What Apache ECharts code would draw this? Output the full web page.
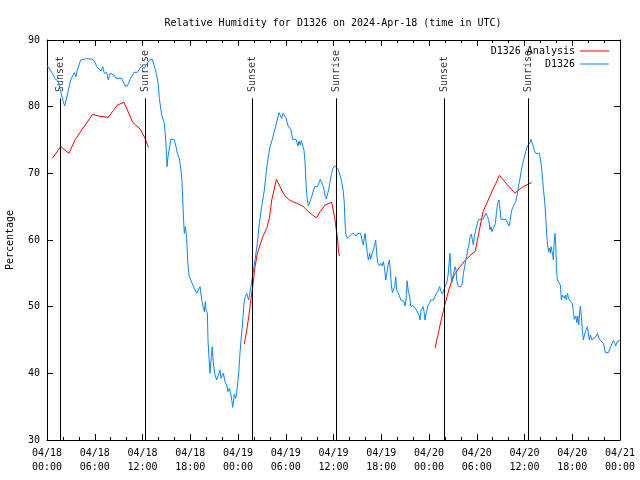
<!DOCTYPE html>
<html><head><meta charset="utf-8">
<script src="https://cdn.jsdelivr.net/npm/echarts/dist/echarts.min.js"></script>
<style>html,body{margin:0;padding:0;background:#fff}#c{width:640px;height:480px}</style>
</head><body><div id="c"></div><script>
// x tick labels (every 6 hours from 2024-04-18 00:00 UTC)
const xTickLabels = ['04/18\n00:00','04/18\n06:00','04/18\n12:00','04/18\n18:00','04/19\n00:00','04/19\n06:00','04/19\n12:00','04/19\n18:00','04/20\n00:00','04/20\n06:00','04/20\n12:00','04/20\n18:00','04/21\n00:00'];
// sunrise / sunset times (hours since 04/18 00:00 UTC)
const sunHours = [1.72, 12.35, 25.8, 36.35, 49.93, 60.53];
const sunNames = ['Sunset','Sunrise','Sunset','Sunrise','Sunset','Sunrise'];

// D1326 observations: hours since 04/18 00:00 UTC, relative humidity (%)
const obsHours = [0.0,0.67,1.0,1.42,1.63,2.05,2.22,2.55,2.97,3.43,3.64,3.81,4.06,4.23,5.0,5.74,6.03,6.24,6.79,7.0,7.2,7.5,7.7,7.92,8.42,8.67,9.38,9.8,10.09,10.51,10.93,11.35,11.9,12.23,12.44,12.94,13.23,13.57,13.78,13.99,14.11,14.29,14.41,14.62,14.74,14.87,14.99,15.08,15.2,15.46,15.54,15.96,16.17,16.38,16.63,16.8,16.96,17.05,17.17,17.26,17.38,17.55,17.68,17.84,18.06,18.27,18.6,18.81,19.06,19.23,19.48,19.77,19.9,19.98,20.15,20.23,20.36,20.48,20.65,20.77,20.9,21.11,21.32,21.53,21.74,21.86,22.16,22.37,22.58,22.74,22.91,23.08,23.25,23.33,23.46,23.54,23.71,23.83,24.0,24.13,24.25,24.38,24.5,24.63,24.75,24.92,25.09,25.34,25.5,25.63,25.76,26.14,26.43,26.68,26.98,27.31,27.65,27.98,28.31,28.56,28.82,29.15,29.32,29.49,29.66,29.78,29.91,30.07,30.25,30.49,30.66,30.87,31.29,31.54,31.67,31.83,31.96,32.17,32.29,32.42,32.55,32.67,32.84,33.01,33.26,33.64,33.97,34.18,34.35,34.52,34.64,34.81,34.97,35.1,35.22,35.39,35.6,35.77,35.94,36.15,36.35,36.52,36.69,36.9,37.07,37.23,37.36,37.45,37.57,37.74,37.99,38.16,38.45,38.7,38.87,39.04,39.42,39.58,39.75,39.96,40.09,40.25,40.38,40.55,40.67,40.8,41.01,41.17,41.3,41.43,41.55,41.76,41.97,42.14,42.26,42.39,42.56,42.68,42.85,43.02,43.14,43.27,43.4,43.56,43.69,43.81,43.94,44.11,44.32,44.48,44.82,44.99,45.11,45.24,45.41,45.57,45.7,46.03,46.24,46.41,46.62,46.75,46.87,47.0,47.25,47.38,47.5,47.67,47.84,48.05,48.21,48.55,48.72,48.93,49.13,49.34,49.51,49.68,49.85,50.01,50.22,50.43,50.52,50.64,50.73,50.85,50.98,51.15,51.27,51.4,51.48,51.69,51.98,52.19,52.32,52.49,52.61,52.74,52.86,53.03,53.16,53.32,53.45,53.58,53.7,53.83,53.95,54.12,54.29,54.75,54.92,55.17,55.34,55.5,55.67,55.8,55.92,56.09,56.22,56.34,56.47,56.63,56.8,56.93,57.05,57.64,57.89,58.06,58.18,58.35,58.52,58.73,58.9,59.11,59.27,59.44,59.61,59.78,59.94,60.15,60.36,60.7,60.82,60.95,61.12,61.24,61.41,61.87,61.95,62.08,62.2,62.29,62.41,62.54,62.67,62.79,62.92,63.04,63.13,63.25,63.34,63.46,63.55,63.63,63.71,63.84,63.92,64.01,64.13,64.38,64.51,64.63,64.76,64.89,65.01,65.14,65.26,65.39,65.51,65.64,65.89,66.02,66.14,66.27,66.44,66.56,66.69,66.81,66.94,67.02,67.15,67.27,67.4,67.53,67.65,67.78,67.9,68.03,68.15,68.28,68.49,68.74,68.99,69.16,69.28,69.41,69.62,69.91,70.04,70.16,70.54,70.67,70.83,71.0,71.17,71.34,71.46,71.63,71.84,72.0];
const obsValues = [86.2,85.0,84.25,83.75,82.75,80.75,80.1,81.75,84.0,85.1,84.5,85.5,85.75,87.0,87.2,87.1,86.65,86.0,85.35,86.0,85.0,85.1,84.0,85.0,84.75,84.25,84.25,83.1,83.1,84.25,85.15,85.15,86.1,85.7,86.25,87.1,87.1,85.75,84.75,83.25,81.25,79.75,78.75,78.0,77.5,75.75,73.5,71.0,72.5,74.25,75.1,75.1,74.25,73.0,72.25,70.75,69.0,66.25,62.75,61.0,62.0,60.25,56.75,54.75,54.0,53.9,52.5,52.0,52.0,53.0,50.75,49.25,50.75,49.5,49.0,45.0,42.25,40.0,42.5,44.0,41.5,39.75,39.0,39.75,40.5,39.25,40.0,38.75,38.25,37.25,37.75,37.0,35.75,34.9,36.0,36.85,36.25,37.0,39.0,40.75,43.1,45.0,46.5,48.5,50.5,51.5,52.0,51.0,51.0,53.0,53.25,57.0,59.5,62.5,65.0,67.5,71.25,73.75,75.1,75.1,77.5,79.1,79.1,78.25,79.0,78.75,79.0,78.25,77.25,77.1,76.5,75.1,75.1,74.1,74.85,74.25,74.9,74.0,73.5,71.75,68.5,66.5,65.1,65.1,66.5,68.0,68.0,68.6,69.1,69.1,68.25,67.6,66.5,66.15,66.75,67.5,69.0,70.0,70.75,71.1,71.1,70.75,70.25,69.4,68.5,67.25,65.5,62.5,60.75,60.25,60.25,60.75,61.0,61.0,60.6,61.0,61.0,60.0,59.25,61.0,59.75,58.0,57.0,58.0,57.1,57.75,58.5,59.25,60.0,58.0,56.6,56.15,56.5,56.1,56.75,56.0,54.0,54.75,56.25,57.0,55.5,53.25,52.1,52.1,53.0,54.5,52.5,52.1,52.0,51.0,50.85,50.1,51.0,53.9,52.25,51.5,50.1,50.1,50.0,49.5,49.5,48.75,48.0,49.5,50.0,49.25,48.0,49.1,50.1,50.5,51.0,51.0,51.5,52.0,52.35,53.0,52.25,51.9,51.9,53.0,53.5,55.0,56.5,58.0,55.5,53.5,54.5,55.25,56.0,55.5,54.0,53.0,53.0,53.5,55.0,56.0,57.0,57.5,58.5,59.25,60.5,60.9,60.0,59.25,60.5,61.25,61.5,62.75,63.1,63.1,63.4,64.0,63.5,63.1,61.5,62.0,61.25,61.75,61.5,62.5,64.0,65.5,66.0,64.5,63.1,63.1,62.9,62.1,62.75,64.25,64.9,65.1,65.75,67.0,68.25,69.25,70.5,71.5,72.25,73.25,74.1,74.6,75.1,74.6,74.0,73.4,73.0,73.0,72.5,71.5,70.25,68.75,67.25,65.75,63.5,60.75,59.0,58.25,58.75,58.0,59.0,58.25,57.75,57.0,59.25,61.0,59.5,55.75,54.0,54.0,53.25,51.0,51.75,52.0,51.25,51.75,51.0,52.0,51.5,51.0,51.0,50.5,49.25,48.1,48.6,47.6,48.6,47.25,49.25,50.1,48.5,46.25,45.0,45.75,46.25,46.6,47.0,45.9,45.0,45.75,45.0,45.0,45.5,46.0,45.6,45.1,45.0,44.5,43.9,43.1,43.1,43.5,44.0,44.5,44.9,44.5,44.1,44.75,45.0,45.0];

// D1326 Analysis: three runs (null marks a break)
const anaHours = [0.67,1.72,2.76,3.52,4.36,5.74,6.45,7.71,8.84,9.68,10.77,11.69,12.32,12.74, 18.0,
  24.8,25.1,25.35,25.64,25.85,26.14,26.44,26.77,27.11,27.61,27.94,28.24,28.53,28.82,29.28,29.83,30.33,30.88,31.59,32.22,32.85,33.47,33.89,34.31,34.94,35.78,35.9,36.2,36.32,36.49,36.62,36.74, 42.0,
  48.76,49.39,49.98,50.56,51.19,51.9,52.6,53.2,53.8,54.33,54.8,55.3,55.88,56.4,56.85,57.77,58.81,59.23,59.86,60.48,60.9];
const anaValues = [72.25,74.0,73.0,75.0,76.5,78.85,78.6,78.4,80.25,80.65,77.65,76.65,75.25,73.9, null,
  44.4,46.5,48.5,51.25,53.0,56.0,58.0,59.25,60.5,61.75,63.25,66.0,67.5,69.1,68.0,66.75,66.1,65.75,65.4,65.0,64.25,63.65,63.35,64.25,65.25,65.65,65.5,63.0,61.75,60.5,58.5,57.6, null,
  43.75,47.25,50.25,52.8,54.8,56.0,57.0,57.7,58.3,61.5,64.3,65.6,67.2,68.5,69.7,68.4,67.0,67.5,68.0,68.4,68.6];

const FONT = 'DejaVu Sans Mono';
const txt = {color:'#000', fontFamily: FONT, fontSize: 10};
const LINE_TOP = 81.25, LABEL_BASE = 82.2;

const chart = echarts.init(document.getElementById('c'), null, {renderer:'canvas'});
const axisCommonX = {
  type:'value', min:0, max:72, interval:6,
  axisLine:{show:true, onZero:false, lineStyle:{color:'#000', width:1}},
  axisTick:{show:true, inside:true, length:6, lineStyle:{color:'#000'}},
  minorTick:{show:true, splitNumber:3, length:3, lineStyle:{color:'#000'}},
  splitLine:{show:false}, minorSplitLine:{show:false}
};
const axisCommonY = {
  type:'value', min:30, max:90, interval:10,
  axisLine:{show:true, onZero:false, lineStyle:{color:'#000', width:1}},
  axisTick:{show:true, inside:true, length:6, lineStyle:{color:'#000'}},
  splitLine:{show:false}
};
const legendCommon = {right:31, align:'right', orient:'horizontal', padding:0, icon:'rect',
  itemWidth:29, itemHeight:1, itemGap:0, selectedMode:false, textStyle:txt};
chart.setOption({
  animation:false,
  backgroundColor:'#fff',
  title:{text:'Relative Humidity for D1326 on 2024-Apr-18 (time in UTC)', left:328, top:13, textAlign:'center',
    textStyle:{color:'#000', fontFamily:FONT, fontSize:10, fontWeight:'normal'}},
  legend:[
    Object.assign({}, legendCommon, {data:['D1326 Analysis'], top:46}),
    Object.assign({}, legendCommon, {data:['D1326'], top:59})
  ],
  grid:{left:47, right:20, top:40, bottom:40, containLabel:false, outerBoundsMode:'none'},
  xAxis:[
    Object.assign({}, axisCommonX, {position:'bottom',
      axisLabel:Object.assign({}, txt, {margin:6, lineHeight:14, formatter:v=>xTickLabels[Math.round(v/6)]})}),
    Object.assign({}, axisCommonX, {position:'top', axisLabel:{show:false}})
  ],
  yAxis:[
    Object.assign({}, axisCommonY, {position:'left', name:'Percentage', nameLocation:'middle', nameGap:32,
      nameTextStyle:txt, axisLabel:Object.assign({}, txt, {margin:7})}),
    Object.assign({}, axisCommonY, {position:'right', axisLabel:{show:false}})
  ],
  series:[
    {name:'D1326 Analysis', type:'line', symbol:'none', connectNulls:false,
      data: anaHours.map((h,i)=>[h, anaValues[i]]),
      color:'#ff0000', lineStyle:{color:'#ff0000', width:1}},
    {name:'D1326', type:'line', symbol:'none',
      data: obsHours.map((h,i)=>[h, obsValues[i]]),
      color:'#0a84ff', lineStyle:{color:'#0a84ff', width:1}},
    {name:'sun', type:'scatter', symbolSize:0, silent:true,
      data: sunHours.map((h,i)=>({value:[h, LABEL_BASE], name:sunNames[i]})),
      label:{show:true, position:'inside', rotate:90, align:'left', verticalAlign:'middle',
        formatter:p=>p.name, color:'#000', fontFamily:FONT, fontSize:10},
      markLine:{silent:true, symbol:['none','none'], label:{show:false},
        lineStyle:{color:'#000', width:1, type:'solid'},
        data: sunHours.map(h=>[{coord:[h,30]},{coord:[h,LINE_TOP]}])}}
  ]
});
</script></body></html>
